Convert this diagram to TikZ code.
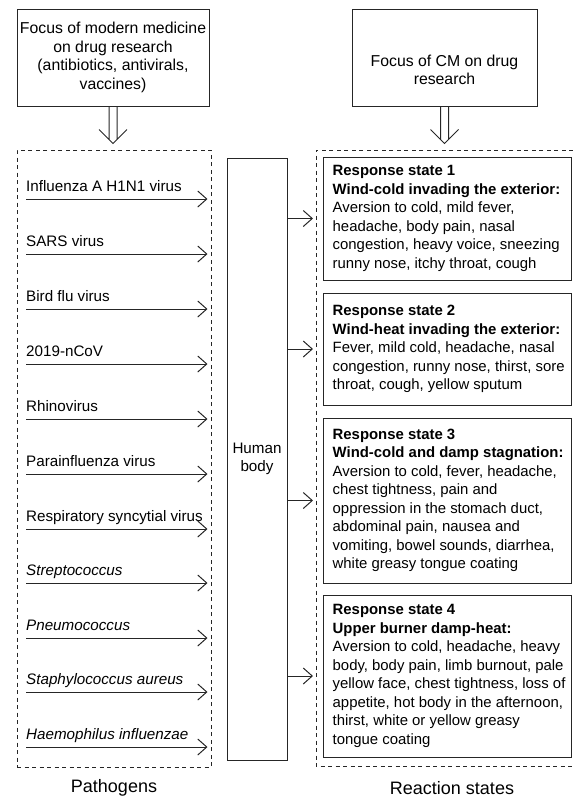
\documentclass[tikz,border=0pt]{standalone}
\usepackage{fontspec}
\setmainfont{Liberation Sans}
\usetikzlibrary{arrows.meta,calc}
\begin{document}
\begin{tikzpicture}[x=1pt,y=-1pt,
  font=\fontsize{15.2}{18.5}\selectfont,
  box/.style={draw=black!85, line width=1pt, inner sep=0pt},
  boxtext/.style={anchor=west, align=left, inner sep=0pt, font=\fontsize{14.9}{18.5}\selectfont},
  dashbox/.style={draw=black!85, line width=1pt, dash pattern=on 4pt off 3.5pt},
  dashline/.style={draw=black!85, line width=1pt, dash pattern=on 4pt off 3.5pt},
  arr/.style={draw=black!85, line width=1pt, -{Straight Barb[length=9pt,width=16pt]}},
  dbl/.style={draw=black!85, line width=1pt},
  lbl/.style={anchor=base west, inner sep=0pt},
  biglbl/.style={font=\fontsize{18}{22}\selectfont}]
\useasboundingbox (0,0) rectangle (573,798);

% top boxes
\node[box, minimum width=192pt, minimum height=97pt, align=center,
      font=\fontsize{15.8}{18.5}\selectfont] (topL) at (113,57.5)
  {Focus of modern medicine\\on drug research\\(antibiotics, antivirals,\\vaccines)};
\node[box, minimum width=185pt, minimum height=97pt] (topR) at (444.5,57.5) {};
\node[align=center, inner sep=0pt, font=\fontsize{15.8}{18.5}\selectfont] (topRt) at (444.5,70)
  {Focus of CM on drug\\research};

% double arrows
\draw[dbl] ($(topL.south)+(-4,0)$) -- ++(0,33) ($(topL.south)+(4,0)$) -- ++(0,33)
  ($(topL.south)+(-14,23)$) -- ++(14,14) -- ++(14,-14);
\draw[dbl] ($(topR.south)+(-4,0)$) -- ++(0,33) ($(topR.south)+(4,0)$) -- ++(0,33)
  ($(topR.south)+(-14,23)$) -- ++(14,14) -- ++(14,-14);

% pathogens dashed box
\node[dashbox, minimum width=194pt, minimum height=617pt] (pathbox) at (114,458.5) {};

% human body
\node[box, minimum width=60pt, minimum height=602pt, align=center] (body) at (257,459) {Human\\body};

% reaction states dashed frame (open at right edge)
\coordinate (rtop) at (316,150);
\coordinate (rbot) at (316,766);
\draw[dashline] (573,150) -- (rtop) -- (rbot) -- (573,766);

% pathogens
\foreach \i/\y/\t in {
  1/199/{Influenza A H1N1 virus},
  2/254/{SARS virus},
  3/309/{Bird flu virus},
  4/364/{2019-nCoV},
  5/419/{Rhinovirus},
  6/474/{Parainfluenza virus},
  7/529/{Respiratory syncytial virus},
  8/583/{\itshape Streptococcus},
  9/638/{\itshape Pneumococcus},
  10/692/{\itshape Staphylococcus aureus},
  11/747/{\itshape Haemophilus influenzae}}{
  \node[lbl] (p\i) at (26,\y-8) {\t};
  \coordinate (s\i) at (26,\y);
  \draw[arr, shorten >=4pt] (s\i) -- (s\i -| pathbox.east);
}

% response boxes
\node[box, minimum width=248pt, minimum height=123pt] (r1) at (447,218.5) {};
\node[boxtext] (r1t) at ($(r1.west)+(10,0)$)
  {\textbf{Response state 1}\\
   \textbf{Wind-cold invading the exterior:}\\
   Aversion to cold, mild fever,\\
   headache, body pain, nasal\\
   congestion, heavy voice, sneezing\\
   runny nose, itchy throat, cough};
\node[box, minimum width=248pt, minimum height=112pt] (r2) at (447,349) {};
\node[boxtext] (r2t) at ($(r2.west)+(10,0)$)
  {\textbf{Response state 2}\\
   \textbf{Wind-heat invading the exterior:}\\
   Fever, mild cold, headache, nasal\\
   congestion, runny nose, thirst, sore\\
   throat, cough, yellow sputum};
\node[box, minimum width=248pt, minimum height=165pt] (r3) at (447,500.5) {};
\node[boxtext] (r3t) at ($(r3.west)+(10,0)$)
  {\textbf{Response state 3}\\
   \textbf{Wind-cold and damp stagnation:}\\
   Aversion to cold, fever, headache,\\
   chest tightness, pain and\\
   oppression in the stomach duct,\\
   abdominal pain, nausea and\\
   vomiting, bowel sounds, diarrhea,\\
   white greasy tongue coating};
\node[box, minimum width=248pt, minimum height=162pt] (r4) at (447,676) {};
\node[boxtext] (r4t) at ($(r4.west)+(10,0)$)
  {\textbf{Response state 4}\\
   \textbf{Upper burner damp-heat:}\\
   Aversion to cold, headache, heavy\\
   body, body pain, limb burnout, pale\\
   yellow face, chest tightness, loss of\\
   appetite, hot body in the afternoon,\\
   thirst, white or yellow greasy\\
   tongue coating};

% body to response arrows
\foreach \k in {1,2,3,4}{
  \draw[arr, shorten >=3pt] (body.east |- r\k.west) -- (rtop |- r\k.west);
}

% bottom labels
\node[biglbl] (pathlbl) at (114,788) {Pathogens};
\node[biglbl] (reactlbl) at (452,788) {Reaction states};
\end{tikzpicture}
\end{document}
